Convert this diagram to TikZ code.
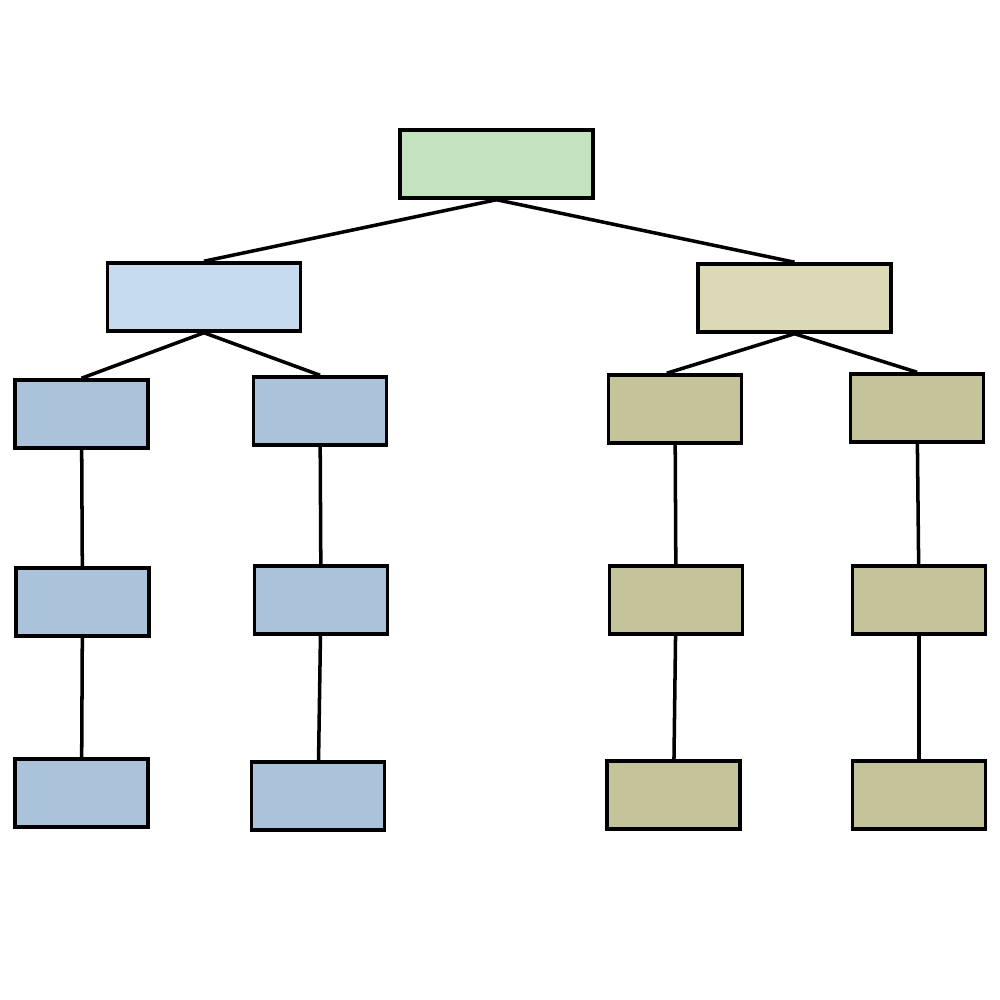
\documentclass[tikz,border=0pt]{standalone}
\definecolor{topgreen}{HTML}{C3E3BE}
\definecolor{lightblue}{HTML}{C7DBEE}
\definecolor{lightolive}{HTML}{DCDAB6}
\definecolor{midblue}{HTML}{ABC3DA}
\definecolor{midolive}{HTML}{C4C39A}
\tikzset{
	box/.style = {draw, line width = 1pt, inner sep = 0pt, minimum height = 0.68cm},
	bigbox/.style = {box, minimum width = 1.93cm},
	smallbox/.style = {box, minimum width = 1.33cm},
	link/.style = {line width = 1pt}
}
\begin{document}
\begin{tikzpicture}
	\useasboundingbox (0,0) rectangle (10,-10);
	\node [bigbox, fill = topgreen] (top) at (4.965,-1.64) {};
	\node [bigbox, fill = lightblue] (l) at (2.04,-2.97) {};
	\node [bigbox, fill = lightolive] (r) at (7.945,-2.98) {};
	\foreach \name/\x/\y/\c in {la1/0.815/-4.14/midblue, lb1/3.20/-4.11/midblue, ra1/6.75/-4.09/midolive, rb1/9.17/-4.08/midolive,
		la2/0.825/-6.02/midblue, lb2/3.21/-6.00/midblue, ra2/6.76/-6.00/midolive, rb2/9.19/-6.00/midolive,
		la3/0.815/-7.93/midblue, lb3/3.18/-7.96/midblue, ra3/6.735/-7.95/midolive, rb3/9.19/-7.95/midolive}
		\node [smallbox, fill = \c] (\name) at (\x,\y) {};
	\draw [link] (l.north) -- (top.south) -- (r.north);
	\draw [link] (la1.north) -- (l.south) -- (lb1.north);
	\draw [link] (ra1.north west) ++(0.6,0) -- (r.south) -- (rb1.north);
	\foreach \col in {la, lb, ra, rb} {
		\draw [link] (\col1) -- (\col2);
		\draw [link] (\col2) -- (\col3);
	}
\end{tikzpicture}
\end{document}
